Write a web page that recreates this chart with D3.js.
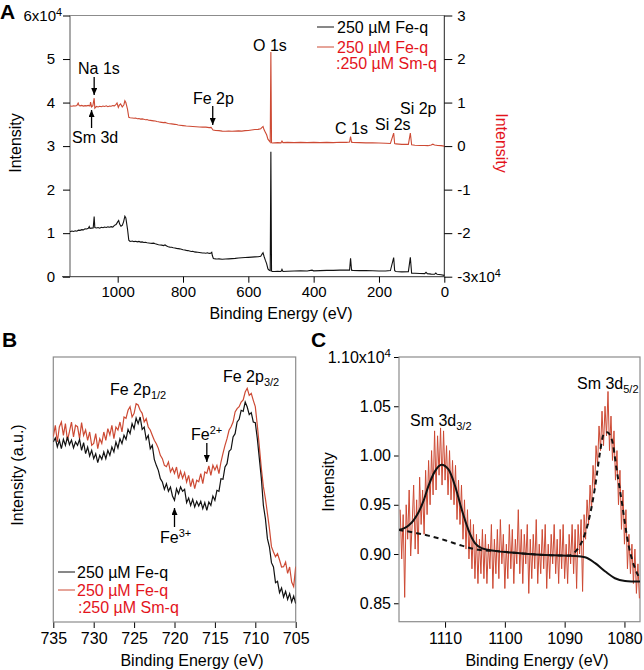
<!DOCTYPE html>
<html><head><meta charset="utf-8">
<script src="https://cdn.jsdelivr.net/npm/d3@7"></script>
<style>body{margin:0;background:#fff}</style>
</head><body>
<svg id="chart" width="644" height="670"></svg>
<script>
// ================= DATA =================
// Panel A: XPS survey (binding energy eV, counts)
const surveyTicksX = [1000, 800, 600, 400, 200, 0];
const surveyTicksLeft = [0, 10000, 20000, 30000, 40000, 50000, 60000];
const surveyTicksRight = [-30000, -20000, -10000, 0, 10000, 20000, 30000];
const surveyFeq = [[1146,10300],[1140,10500],[1135,10400],[1130,10550],[1125,10450],[1120,10700],[1115,10650],[1110,10800],[1105,10750],[1100,11000],[1095,10950],[1090,11100],[1087,11500],[1085,11100],[1080,11150],[1075,11200],[1072,13800],[1070,11300],[1065,11200],[1060,11300],[1055,11150],[1050,11350],[1045,11250],[1040,11400],[1035,11300],[1030,11450],[1025,11350],[1020,11500],[1015,11400],[1010,11800],[1005,12000],[1000,12600],[997,12900],[994,12100],[990,11600],[986,11800],[982,12600],[978,13900],[975,13500],[970,11000],[966,8400],[962,8100],[955,8200],[950,8050],[945,8150],[940,8000],[935,8100],[930,7950],[925,8000],[920,7850],[915,7900],[910,7800],[905,7750],[900,7700],[895,7650],[890,7700],[885,7550],[880,7450],[875,7350],[870,7300],[865,7250],[860,7150],[855,7300],[850,7050],[845,6900],[840,6800],[835,6750],[830,6650],[825,6600],[820,6500],[815,6450],[810,6400],[805,6300],[800,6200],[795,6150],[790,6050],[785,6000],[780,5900],[775,5800],[770,5850],[765,5700],[760,5650],[755,5600],[750,5550],[745,5500],[740,5450],[735,5450],[730,5400],[725,5500],[720,5350],[715,5400],[712,5600],[710,4800],[707,4200],[700,4100],[695,4050],[690,4100],[680,4000],[670,4050],[660,4100],[650,4150],[640,4200],[630,4300],[620,4350],[610,4400],[600,4450],[590,4500],[580,4550],[570,4600],[562,4700],[558,5200],[555,5500],[552,4700],[548,3800],[544,3000],[540,1800],[536,1500],[533,1400],[531,28700],[529,1300],[527,1200],[520,1200],[510,1250],[500,1200],[497,1700],[494,1200],[480,1250],[460,1300],[440,1350],[420,1300],[405,1500],[400,1350],[380,1400],[360,1450],[340,1450],[320,1500],[300,1500],[290,1500],[287,4200],[284,1500],[280,1450],[260,1400],[240,1400],[220,1350],[200,1300],[180,1300],[165,1400],[155,4400],[152,1400],[148,1200],[130,1100],[110,1150],[104,4450],[100,800],[90,800],[75,750],[60,700],[56,1000],[52,700],[40,600],[30,550],[26,850],[22,550],[10,450],[0,300]];
const surveyFeSm = [[1146,9200],[1140,9150],[1135,9250],[1130,9200],[1125,9300],[1121,9900],[1118,9300],[1115,9250],[1110,9350],[1105,9200],[1100,9300],[1095,9250],[1090,9350],[1085,9200],[1083,10100],[1080,9000],[1076,9300],[1072,11000],[1070,8700],[1065,9100],[1060,9000],[1055,9150],[1050,9050],[1045,9200],[1040,9100],[1035,9250],[1030,9050],[1025,9200],[1020,9150],[1015,9300],[1010,9250],[1005,9600],[1002,9900],[998,8900],[995,9400],[991,9700],[986,9000],[981,9500],[978,10400],[975,10000],[970,8500],[966,6600],[962,6500],[955,6450],[950,6400],[945,6450],[940,6300],[935,6350],[930,6200],[925,6250],[920,6150],[915,6050],[910,6100],[905,5950],[900,5900],[895,5850],[890,5800],[885,5750],[880,5650],[875,5600],[870,5500],[865,5450],[860,5400],[855,5450],[850,5300],[845,5200],[840,5150],[835,5100],[830,5050],[825,5000],[820,4950],[815,4850],[810,4800],[800,4700],[790,4600],[780,4550],[770,4500],[760,4450],[750,4400],[740,4350],[730,4350],[720,4250],[714,4300],[712,4100],[708,3700],[700,3600],[690,3550],[680,3450],[670,3400],[660,3450],[650,3400],[640,3450],[630,3500],[620,3450],[610,3550],[600,3600],[590,3700],[580,3800],[570,3850],[562,4000],[558,4300],[555,4500],[552,3800],[548,3200],[544,2600],[540,1600],[536,1200],[533,900],[531,21600],[529,800],[527,700],[520,750],[510,800],[500,750],[497,1150],[494,800],[480,850],[460,800],[440,850],[420,800],[400,850],[380,800],[360,850],[340,800],[320,900],[300,850],[290,950],[287,2200],[284,900],[280,850],[260,800],[240,750],[220,750],[200,700],[180,650],[165,600],[155,3000],[152,600],[148,500],[130,400],[110,400],[104,3000],[100,300],[90,200],[75,150],[60,150],[50,100],[40,250],[35,450],[30,250],[20,150],[10,100],[0,0]];

// Panel B: Fe 2p region, 735 -> 705 eV every 0.25 eV (arbitrary units)
const feTicks = [735, 730, 725, 720, 715, 710, 705];
const feStartEV = 735, feStepEV = 0.25;
const feFeq = [
540,552,525,545, 520,548,530,555, 532,546,522,540, 530,548,515,538, 505,525,498,515,
490,505,478,500, 488,510,490,515, 500,525,510,540, 522,550,535,560, 548,578,565,595,
580,612,595,615, 578,585,548,560, 520,530,488,470, 455,430,420,398, 415,392,405,378,
365,400,385,405, 392,398,358,372, 350,368,345,362, 348,362,340,358, 335,360,350,378,
365,395,392,430, 428,465,475,512, 518,555,565,600, 608,635,632,660, 645,622,628,600,
598,550,490,430, 350,310,250,225, 178,165,118,122, 88,102,75,92, 68,85,60,78, 55];
const feFeSm = [
556,590,540,585, 600,560,595,545, 571,600,555,590, 586,550,598,560, 576,545,570,530,
536,565,520,550, 536,570,545,580, 561,590,550,585, 576,600,570,615, 611,635,646,615,
626,655,651,635, 626,600,610,585, 576,560,545,535, 521,500,490,470, 466,480,450,462,
446,465,430,452, 431,448,420,440, 406,430,400,425, 421,445,415,450, 446,468,440,470,
456,470,445,480, 506,530,550,575, 586,600,630,640, 646,660,666,690, 701,680,686,665,
646,590,526,460, 406,370,326,280, 226,210,196,205, 186,165,166,180, 146,165,120,106, 166];

// Panel C: Sm 3d region, 1117.5 -> 1077.5 eV every 0.25 eV (counts)
const smTicksX = [1110, 1100, 1090, 1080];
const smTicksY = [8500, 9000, 9500, 10000, 10500, 11000];
const smStartEV = 1117.5, smStepEV = 0.25;
const smRaw = [
9450,8950,9400,8560, 9500,9150,9650,8980, 9300,9700,9050,9550, 9000,9780,9300,9650, 9200,9850,9400,9950,
9500,10050,9600,10250, 9650,10200,9800,10280, 9700,10250,9750,10100, 9600,10050,9550,9950, 9500,9900,9350,9750,
9300,9700,9150,9550, 9050,9450,8950,9350, 8850,9300,8750,9200, 8700,9150,8800,9250, 8750,9200,8700,9100,
8850,9300,8650,9150, 8800,9250,8750,9350, 8900,9200,8650,9100, 8750,9300,8850,9250, 8700,9150,8900,9450,
8800,9250,8700,9200, 8900,9300,8600,9150, 8750,9200,8850,9350, 8700,9100,8800,9250, 8850,9300,8650,9100,
8750,9200,8900,9300, 8800,9150,8700,9250, 8850,9300,8750,9100, 8700,9200,8900,9300, 8800,9250,8650,9300,
9000,9350,8620,9400, 9150,9550,9300,9700, 9450,9900,9650,10100, 9900,10300,10050,10450, 10100,10500,10200,10650,
10050,10400,9950,10250, 9750,10050,9500,9850, 9250,9650,9100,9450, 8850,9200,8800,9100, 8700,9050,8600,8900,
8550];
const smFit32 = [[1117.8,9246],[1116.9,9260],[1116.1,9290],[1115.3,9340],[1114.5,9416],[1113.6,9540],[1112.8,9686],[1111.7,9839],[1110.6,9907],[1109.4,9856],[1108.3,9686],[1107.2,9449],[1106.1,9246],[1105.0,9110],[1103.9,9060],[1101.6,9032],[1098.9,9015],[1096.1,9001],[1093.3,8991],[1090.5,8984],[1088.2,8980],[1086.6,8968],[1084.9,8907],[1083.2,8822],[1081.6,8754],[1079.9,8727],[1077.4,8720]];
const smFit52 = [[1117.8,9246],[1115.0,9215],[1112.8,9187],[1110.0,9140],[1107.2,9085],[1104.4,9043],[1101.6,9030],[1098.9,9015],[1096.1,9001],[1093.3,8991],[1090.5,8984],[1089.2,8985],[1088.2,9025],[1087.1,9127],[1086.0,9334],[1084.9,9686],[1084.1,10026],[1083.5,10212],[1082.9,10235],[1082.1,10160],[1081.3,9856],[1080.5,9551],[1079.3,9085],[1078.2,8849],[1077.4,8747]];

const legendLabels = ["250 µM Fe-q", "250 µM Fe-q", ":250 µM Sm-q"];

// ================= DRAW =================
const FONT = '"Liberation Sans", Arial, Helvetica, sans-serif';
const RED_LINE = "#cd4a34";
const RED_TEXT = "#e3141c";
const GRAY = "#8c8c8c";
const svg = d3.select("#chart").attr("font-family", FONT);

const defs = svg.append("defs");
defs.append("marker").attr("id", "ah").attr("viewBox", "0 0 10 10")
  .attr("refX", 10).attr("refY", 5).attr("markerWidth", 7).attr("markerHeight", 6)
  .attr("markerUnits", "userSpaceOnUse").attr("preserveAspectRatio", "none").attr("orient", "auto")
  .append("path").attr("d", "M0,0 L10,5 L0,10 Z").attr("fill", "#000");

function arrow(x1, y1, x2, y2) {
  svg.append("line").attr("x1", x1).attr("y1", y1).attr("x2", x2).attr("y2", y2)
    .attr("stroke", "#000").attr("stroke-width", 1.3).attr("marker-end", "url(#ah)");
}
// parts: [text, mode] mode: 0 normal, 1 sub, 2 sup
function label(x, y, parts, opt = {}) {
  const t = svg.append("text").attr("x", x).attr("y", y)
    .attr("font-size", opt.size || 16).attr("fill", opt.fill || "#000")
    .attr("text-anchor", opt.anchor || "start");
  if (opt.transform) t.attr("transform", opt.transform);
  if (opt.weight) t.attr("font-weight", opt.weight);
  let shift = 0;
  parts.forEach(([s, m]) => {
    const target = m === 1 ? 4 : m === 2 ? -6 : 0;
    t.append("tspan").attr("dy", target - shift).attr("font-size", m ? 11 : null).text(s);
    shift = target;
  });
  return t;
}
function styleAxis(g, size) {
  g.attr("font-family", FONT).attr("font-size", size);
  g.select(".domain").remove();
  g.selectAll(".tick line").attr("stroke", "#000");
  g.selectAll(".tick text").attr("fill", "#000");
}
function supTick(g, value, base) {
  g.selectAll(".tick text").filter(d => d === value).text(base)
    .append("tspan").attr("dy", "-0.45em").attr("font-size", "0.72em").text("4");
}

// ---------- Panel A ----------
const xA = d3.scaleLinear().domain([1146, 0]).range([70, 444.3]);
const yAL = d3.scaleLinear().domain([0, 60000]).range([276.7, 15.5]);
const yAR = d3.scaleLinear().domain([-30000, 30000]).range([276.7, 15.5]);

svg.append("line").attr("x1", 70).attr("x2", 444.3).attr("y1", 15.5).attr("y2", 15.5).attr("stroke", GRAY);
svg.append("line").attr("x1", 70).attr("x2", 70).attr("y1", 15.5).attr("y2", 276.7).attr("stroke", GRAY).attr("stroke-width", 1.5);
svg.append("line").attr("x1", 62).attr("x2", 444.3).attr("y1", 276.7).attr("y2", 276.7).attr("stroke", "#333");
svg.append("line").attr("x1", 444.3).attr("x2", 444.3).attr("y1", 15.5).attr("y2", 276.7).attr("stroke", "#222");

const gAB = svg.append("g").attr("transform", "translate(0,276.7)")
  .call(d3.axisBottom(xA).tickValues(surveyTicksX).tickSize(6).tickPadding(4).tickFormat(d3.format("d")));
styleAxis(gAB, 15);
const gAL = svg.append("g").attr("transform", "translate(70,0)")
  .call(d3.axisLeft(yAL).tickValues(surveyTicksLeft).tickSize(7).tickPadding(8).tickFormat(d => d / 10000));
styleAxis(gAL, 15);
supTick(gAL, 60000, "6x10");
gAL.selectAll(".tick text").filter(d => d === 60000).attr("x", -8);
const gAR = svg.append("g").attr("transform", "translate(444.3,0)")
  .call(d3.axisRight(yAR).tickValues(surveyTicksRight).tickSize(8).tickPadding(5).tickFormat(d => String(d / 10000)));
styleAxis(gAR, 15);
supTick(gAR, -30000, "-3x10");

const lineAL = d3.line().x(d => xA(d[0])).y(d => yAL(d[1]));
const lineAR = d3.line().x(d => xA(d[0])).y(d => yAR(d[1]));
svg.append("path").attr("d", lineAL(surveyFeq)).attr("fill", "none").attr("stroke", "#111").attr("stroke-width", 1.1);
svg.append("path").attr("d", lineAR(surveyFeSm)).attr("fill", "none").attr("stroke", RED_LINE).attr("stroke-width", 1.1);

label(0, 19, [["A", 0]], { size: 21, weight: "bold" });
label(21, 143, [["Intensity", 0]], { anchor: "middle", transform: "rotate(-90,21,143)" });
label(496, 143, [["Intensity", 0]], { anchor: "middle", fill: RED_TEXT, transform: "rotate(90,496,143)" });
label(281, 319, [["Binding Energy (eV)", 0]], { anchor: "middle" });

label(253, 51, [["O 1s", 0]]);
label(78, 74, [["Na 1s", 0]]);
arrow(xA(1072), 77, xA(1072), 95);
label(72, 143, [["Sm 3d", 0]]);
arrow(xA(1080), 128, xA(1080), 110);
label(193, 104, [["Fe 2p", 0]]);
arrow(xA(709), 106, xA(709), 125);
label(335, 134, [["C 1s", 0]]);
label(375, 130, [["Si 2s", 0]]);
label(400, 114, [["Si 2p", 0]]);

svg.append("line").attr("x1", 317).attr("x2", 334).attr("y1", 27).attr("y2", 27).attr("stroke", "#111");
label(337, 33, [[legendLabels[0], 0]]);
svg.append("line").attr("x1", 317).attr("x2", 334).attr("y1", 47).attr("y2", 47).attr("stroke", RED_LINE);
label(337, 53, [[legendLabels[1], 0]], { fill: RED_TEXT });
label(336, 69, [[legendLabels[2], 0]], { fill: RED_TEXT });

// ---------- Panel B ----------
const xB = d3.scaleLinear().domain([735, 705]).range([53.3, 295.7]);
const yB = d3.scaleLinear().domain([0, 795]).range([622, 357]);
defs.append("clipPath").attr("id", "clipB").append("rect").attr("x", 53.3).attr("y", 357).attr("width", 242.4).attr("height", 265);
const gBB = svg.append("g").attr("transform", "translate(0,622)")
  .call(d3.axisBottom(xB).tickValues(feTicks).tickSize(6).tickPadding(5).tickFormat(d3.format("d")));
styleAxis(gBB, 16);
svg.append("rect").attr("x", 53.3).attr("y", 357).attr("width", 242.4).attr("height", 265)
  .attr("fill", "none").attr("stroke", GRAY).attr("stroke-width", 1.2);
const lineB = d3.line().x((d, i) => xB(feStartEV - i * feStepEV)).y(d => yB(d));
svg.append("path").attr("d", lineB(feFeSm)).attr("clip-path", "url(#clipB)").attr("fill", "none").attr("stroke", RED_LINE).attr("stroke-width", 1.2);
svg.append("path").attr("d", lineB(feFeq)).attr("clip-path", "url(#clipB)").attr("fill", "none").attr("stroke", "#111").attr("stroke-width", 1.2);

label(2, 347, [["B", 0]], { size: 21, weight: "bold" });
label(23, 475, [["Intensity (a.u.)", 0]], { anchor: "middle", transform: "rotate(-90,23,475)" });
label(192, 666, [["Binding Energy (eV)", 0]], { anchor: "middle" });
label(110, 395, [["Fe 2p", 0], ["1/2", 1]]);
label(223, 382, [["Fe 2p", 0], ["3/2", 1]]);
label(191, 440, [["Fe", 0], ["2+", 2]]);
arrow(xB(716), 443, xB(716), 462);
label(160, 543, [["Fe", 0], ["3+", 2]]);
arrow(xB(720), 527, xB(720), 508);

svg.append("line").attr("x1", 58).attr("x2", 75).attr("y1", 572).attr("y2", 572).attr("stroke", "#111");
label(77, 578, [[legendLabels[0], 0]]);
svg.append("line").attr("x1", 58).attr("x2", 75).attr("y1", 590).attr("y2", 590).attr("stroke", RED_LINE);
label(77, 596, [[legendLabels[1], 0]], { fill: RED_TEXT });
label(78, 613, [[legendLabels[2], 0]], { fill: RED_TEXT });

// ---------- Panel C ----------
const xC = d3.scaleLinear().domain([1117.7, 1077.4]).range([399, 640]);
const yC = d3.scaleLinear().domain([8313, 11000]).range([621.7, 357]);
defs.append("clipPath").attr("id", "clipC").append("rect").attr("x", 399).attr("y", 357).attr("width", 241).attr("height", 264.7);
const gCB = svg.append("g").attr("transform", "translate(0,621.7)")
  .call(d3.axisBottom(xC).tickValues(smTicksX).tickSize(6).tickPadding(5).tickFormat(d3.format("d")));
styleAxis(gCB, 16);
const gCL = svg.append("g").attr("transform", "translate(399,0)")
  .call(d3.axisLeft(yC).tickValues(smTicksY).tickSize(5).tickPadding(3).tickFormat(d => (d / 10000).toFixed(2)));
styleAxis(gCL, 16);
supTick(gCL, 11000, "1.10x10");
svg.append("rect").attr("x", 399).attr("y", 357).attr("width", 241).attr("height", 264.7)
  .attr("fill", "none").attr("stroke", GRAY).attr("stroke-width", 1.2);

const lineC = d3.line().x((d, i) => xC(smStartEV - i * smStepEV)).y(d => yC(d));
svg.append("path").attr("d", lineC(smRaw)).attr("clip-path", "url(#clipC)").attr("fill", "none").attr("stroke", RED_LINE).attr("stroke-width", 1);
const lineFit = d3.line().x(d => xC(d[0])).y(d => yC(d[1])).curve(d3.curveMonotoneX);
svg.append("path").attr("d", lineFit(smFit52)).attr("clip-path", "url(#clipC)").attr("fill", "none").attr("stroke", "#111").attr("stroke-width", 2).attr("stroke-dasharray", "5,4");
svg.append("path").attr("d", lineFit(smFit32)).attr("clip-path", "url(#clipC)").attr("fill", "none").attr("stroke", "#111").attr("stroke-width", 2);

label(311, 347, [["C", 0]], { size: 21, weight: "bold" });
label(334, 482, [["Intensity", 0]], { anchor: "middle", transform: "rotate(-90,334,482)" });
label(537, 666, [["Binding Energy (eV)", 0]], { anchor: "middle" });
label(410, 426, [["Sm 3d", 0], ["3/2", 1]]);
label(577, 389, [["Sm 3d", 0], ["5/2", 1]]);
</script>
</body></html>
